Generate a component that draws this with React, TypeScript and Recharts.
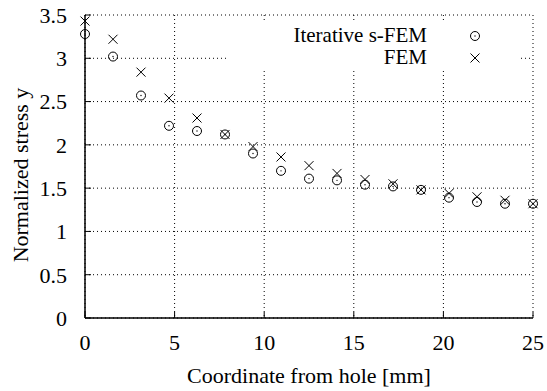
import { ScatterChart, Scatter, XAxis, YAxis, CartesianGrid, Legend } from "recharts";

// distance from the hole edge [mm]
const coords = [
  0, 1.5625, 3.125, 4.6875, 6.25, 7.8125, 9.375, 10.9375, 12.5, 14.0625, 15.625,
  17.1875, 18.75, 20.3125, 21.875, 23.4375, 25,
];
const sfemStress = [
  3.28, 3.02, 2.57, 2.22, 2.16, 2.12, 1.9, 1.7, 1.61, 1.59, 1.54, 1.52, 1.48, 1.39, 1.34,
  1.32, 1.32,
];
const femStress = [
  3.43, 3.22, 2.84, 2.54, 2.31, 2.12, 1.98, 1.86, 1.76, 1.67, 1.6, 1.55, 1.48, 1.44, 1.4,
  1.36, 1.32,
];
const xTicks = [0, 5, 10, 15, 20, 25];
const yTicks = [0, 0.5, 1, 1.5, 2, 2.5, 3, 3.5];
const seriesNames = ["Iterative s-FEM", "FEM"];

const sfemData = coords.map((x, i) => ({ x, y: sfemStress[i] }));
const femData = coords.map((x, i) => ({ x, y: femStress[i] }));

const FONT = "'Liberation Serif', 'Times New Roman', serif";
const tickStyle = { fontFamily: FONT, fontSize: 22, fill: "#000" };

const CircleDot = (props: any) => {
  const { cx, cy } = props;
  return (
    <g>
      <circle cx={cx} cy={cy} r={4.5} fill="none" stroke="#000" strokeWidth={1} />
      <circle cx={cx} cy={cy} r={0.7} fill="#000" />
    </g>
  );
};

const Cross = (props: any) => {
  const { cx, cy } = props;
  const s = 4.5;
  return (
    <g stroke="#000" strokeWidth={1}>
      <line x1={cx - s} y1={cy - s} x2={cx + s} y2={cy + s} />
      <line x1={cx - s} y1={cy + s} x2={cx + s} y2={cy - s} />
    </g>
  );
};

// legend box drawn on white so it hides the grid behind it, like gnuplot does
const renderLegend = () => (
  <svg width={293} height={46} style={{ display: "block" }}>
    {seriesNames.map((name, i) => (
      <g key={name}>
        <text
          x={201}
          y={20 + i * 22}
          textAnchor="end"
          fontFamily={FONT}
          fontSize={21}
          fill="#000"
        >
          {name}
        </text>
        {i === 0 ? <CircleDot cx={249} cy={14} /> : <Cross cx={249} cy={36} />}
      </g>
    ))}
  </svg>
);

const XLabel = (props: any) => {
  const { viewBox } = props;
  return (
    <text
      x={viewBox.x + viewBox.width / 2}
      y={383}
      textAnchor="middle"
      fontFamily={FONT}
      fontSize={22}
      fill="#000"
    >
      Coordinate from hole [mm]
    </text>
  );
};

const YLabel = () => (
  <text
    x={0}
    y={0}
    transform="translate(28,175) rotate(-90)"
    textAnchor="middle"
    fontFamily={FONT}
    fontSize={22}
    fill="#000"
  >
    Normalized stress y
  </text>
);

export default function App() {
  const axisLine = { stroke: "#000", strokeWidth: 1.5 };
  const tickLine = { stroke: "#000", strokeWidth: 1 };
  return (
    <div style={{ position: "absolute", left: 0, top: 0, background: "#fff" }}>
      <ScatterChart
        width={547}
        height={391}
        margin={{ top: 15, right: 14, left: 0, bottom: 0 }}
      >
        <CartesianGrid stroke="#000" strokeWidth={1} strokeDasharray="1 3" />
        <XAxis
          type="number"
          dataKey="x"
          domain={[0, 25]}
          ticks={xTicks}
          height={73}
          axisLine={axisLine}
          tickLine={tickLine}
          tickSize={-6}
          tickMargin={22}
          tick={tickStyle}
          label={<XLabel />}
        />
        <XAxis
          xAxisId="top"
          orientation="top"
          type="number"
          dataKey="x"
          domain={[0, 25]}
          ticks={xTicks}
          height={0}
          axisLine={axisLine}
          tickLine={tickLine}
          tickSize={-6}
          tickFormatter={() => ""}
        />
        <YAxis
          type="number"
          dataKey="y"
          domain={[0, 3.5]}
          ticks={yTicks}
          width={85}
          axisLine={axisLine}
          tickLine={tickLine}
          tickSize={-6}
          tickMargin={24}
          tick={tickStyle}
          label={<YLabel />}
        />
        <YAxis
          yAxisId="right"
          orientation="right"
          type="number"
          dataKey="y"
          domain={[0, 3.5]}
          ticks={yTicks}
          width={0}
          axisLine={axisLine}
          tickLine={tickLine}
          tickSize={-6}
          tickFormatter={() => ""}
        />
        <Legend
          layout="vertical"
          align="center"
          verticalAlign="middle"
          content={renderLegend}
          wrapperStyle={{ left: 226, top: 22, width: 293, height: 46, background: "#fff" }}
        />
        <Scatter
          name={seriesNames[0]}
          data={sfemData}
          shape={<CircleDot />}
          isAnimationActive={false}
        />
        <Scatter
          name={seriesNames[1]}
          data={femData}
          shape={<Cross />}
          isAnimationActive={false}
        />
      </ScatterChart>
    </div>
  );
}
